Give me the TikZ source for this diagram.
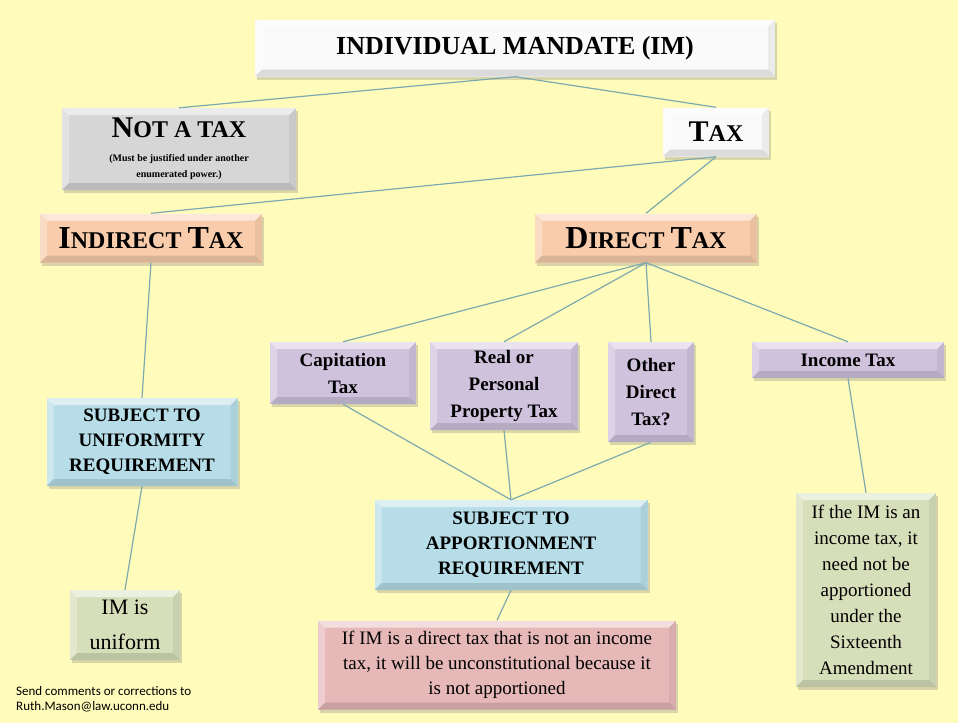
\documentclass[tikz,border=0pt]{standalone}
\usepackage{fontspec}
\setmainfont{Liberation Serif}
\setsansfont{Carlito}
\usetikzlibrary{shadows}
\definecolor{bgyellow}{RGB}{255,251,186}
\definecolor{boxwhite}{RGB}{250,250,250}
\definecolor{boxgray}{RGB}{214,214,214}
\definecolor{boxpeach}{RGB}{249,205,172}
\definecolor{boxpurple}{RGB}{206,194,220}
\definecolor{boxblue}{RGB}{182,221,232}
\definecolor{boxgreen}{RGB}{214,222,186}
\definecolor{boxpink}{RGB}{230,184,184}
\definecolor{linkcol}{RGB}{125,170,175}
\newcommand\initcap[2]{{\fontsize{#1}{#1}\selectfont #2}}
\newcommand\smallnote[1]{{\fontsize{10}{12}\selectfont #1}}

\tikzset{
  bevel/.style={path picture={
      \fill[white,opacity=.55] (path picture bounding box.north west) -- (path picture bounding box.north east)
        -- ++(-7pt,-7pt) -- ([shift={(7pt,-7pt)}]path picture bounding box.north west) -- cycle;
      \fill[white,opacity=.3] (path picture bounding box.north west) -- ([shift={(7pt,-7pt)}]path picture bounding box.north west)
        -- ([shift={(7pt,7pt)}]path picture bounding box.south west) -- (path picture bounding box.south west) -- cycle;
      \fill[black,opacity=.12] (path picture bounding box.south west) -- (path picture bounding box.south east)
        -- ++(-7pt,7pt) -- ([shift={(7pt,7pt)}]path picture bounding box.south west) -- cycle;
      \fill[black,opacity=.06] (path picture bounding box.north east) -- ([shift={(-7pt,-7pt)}]path picture bounding box.north east)
        -- ([shift={(-7pt,7pt)}]path picture bounding box.south east) -- (path picture bounding box.south east) -- cycle;
    }},
  box/.style={rectangle, inner sep=0pt, align=center, bevel,
    drop shadow={opacity=.3, shadow xshift=2pt, shadow yshift=-3pt}},
  headfont/.style={font=\bfseries\fontsize{24}{28}\selectfont},
  kindfont/.style={font=\bfseries\fontsize{19}{27}\selectfont},
  reqfont/.style={font=\bfseries\fontsize{19}{25}\selectfont},
  outfont/.style={font=\fontsize{19}{25}\selectfont},
  link/.style={draw=linkcol, line width=1.2pt}
}

\begin{document}
\begin{tikzpicture}[x=1pt,y=-1pt]
  \fill[bgyellow] (0,0) rectangle (958,723);
  \useasboundingbox (0,0) rectangle (958,723);

  \node[box, fill=boxwhite, minimum width=520pt, minimum height=57pt,
    font=\bfseries\fontsize{26}{30}\selectfont] (im) at (515,48) {INDIVIDUAL MANDATE (IM)};
  \node[box, fill=boxgray, minimum width=234pt, minimum height=82pt, headfont] (notax) at (179,149)
    {\initcap{30}{N}OT A TAX\\[-4pt]
     \smallnote{(Must be justified under another}\\[-12pt] \smallnote{enumerated power.)}};
  \node[box, fill=boxwhite, minimum width=106pt, minimum height=49pt, headfont] (tax) at (716,132)
    {\initcap{30}{T}AX};
  \node[box, fill=boxpeach, minimum width=222pt, minimum height=49pt, headfont] (indirect) at (151,238)
    {\initcap{32}{I}NDIRECT \initcap{32}{T}AX};
  \node[box, fill=boxpeach, minimum width=222pt, minimum height=49pt, headfont] (direct) at (646,238)
    {\initcap{32}{D}IRECT \initcap{32}{T}AX};

  \node[box, fill=boxpurple, minimum width=146pt, minimum height=62pt, kindfont] (capit) at (343,373)
    {Capitation\\ Tax};
  \node[box, fill=boxpurple, minimum width=148pt, minimum height=88pt, kindfont] (property) at (504,386)
    {Real or\\ Personal\\ Property Tax};
  \node[box, fill=boxpurple, minimum width=86pt, minimum height=100pt, kindfont] (other) at (651,392)
    {Other\\ Direct\\ Tax?};
  \node[box, fill=boxpurple, minimum width=192pt, minimum height=36pt, kindfont] (income) at (848,360)
    {Income Tax};

  \node[box, fill=boxblue, minimum width=191pt, minimum height=88pt, reqfont] (uniform) at (142,442)
    {SUBJECT TO\\ UNIFORMITY\\ REQUIREMENT};
  \node[box, fill=boxblue, minimum width=273pt, minimum height=90pt, reqfont] (apport) at (511,545)
    {SUBJECT TO\\ APPORTIONMENT\\ REQUIREMENT};

  \node[box, fill=boxgreen, minimum width=110pt, minimum height=70pt,
    font=\fontsize{22}{35}\selectfont] (isuniform) at (125,625) {IM is\\ uniform};
  \node[box, fill=boxpink, minimum width=358pt, minimum height=89pt, outfont] (unconst) at (497,665)
    {If IM is a direct tax that is not an income\\ tax, it will be unconstitutional because it\\ is not apportioned};
  \node[box, fill=boxgreen, minimum width=140pt, minimum height=194pt,
    font=\fontsize{19}{26}\selectfont] (sixteenth) at (866,590)
    {If the IM is an\\ income tax, it\\ need not be\\ apportioned\\ under the\\ Sixteenth\\ Amendment};

  \node[anchor=north west, align=left, inner sep=0pt,
    font=\sffamily\fontsize{13}{15}\selectfont] (note) at (16,686)
    {Send comments or corrections to\\ Ruth.Mason@law.uconn.edu};

  \draw[link] (im.south) -- (notax.north);
  \draw[link] (im.south) -- (tax.north);
  \draw[link] (tax.south) -- (indirect.north);
  \draw[link] (tax.south) -- (direct.north);
  \draw[link] (direct.south) -- (capit.north);
  \draw[link] (direct.south) -- (property.north);
  \draw[link] (direct.south) -- (other.north);
  \draw[link] (direct.south) -- (income.north);
  \draw[link] (indirect.south) -- (uniform.north);
  \draw[link] (uniform.south) -- (isuniform.north);
  \draw[link] (capit.south) -- (apport.north);
  \draw[link] (property.south) -- (apport.north);
  \draw[link] (other.south) -- (apport.north);
  \draw[link] (apport.south) -- (unconst.north);
  \draw[link] (income.south) -- (sixteenth.north);
\end{tikzpicture}
\end{document}
